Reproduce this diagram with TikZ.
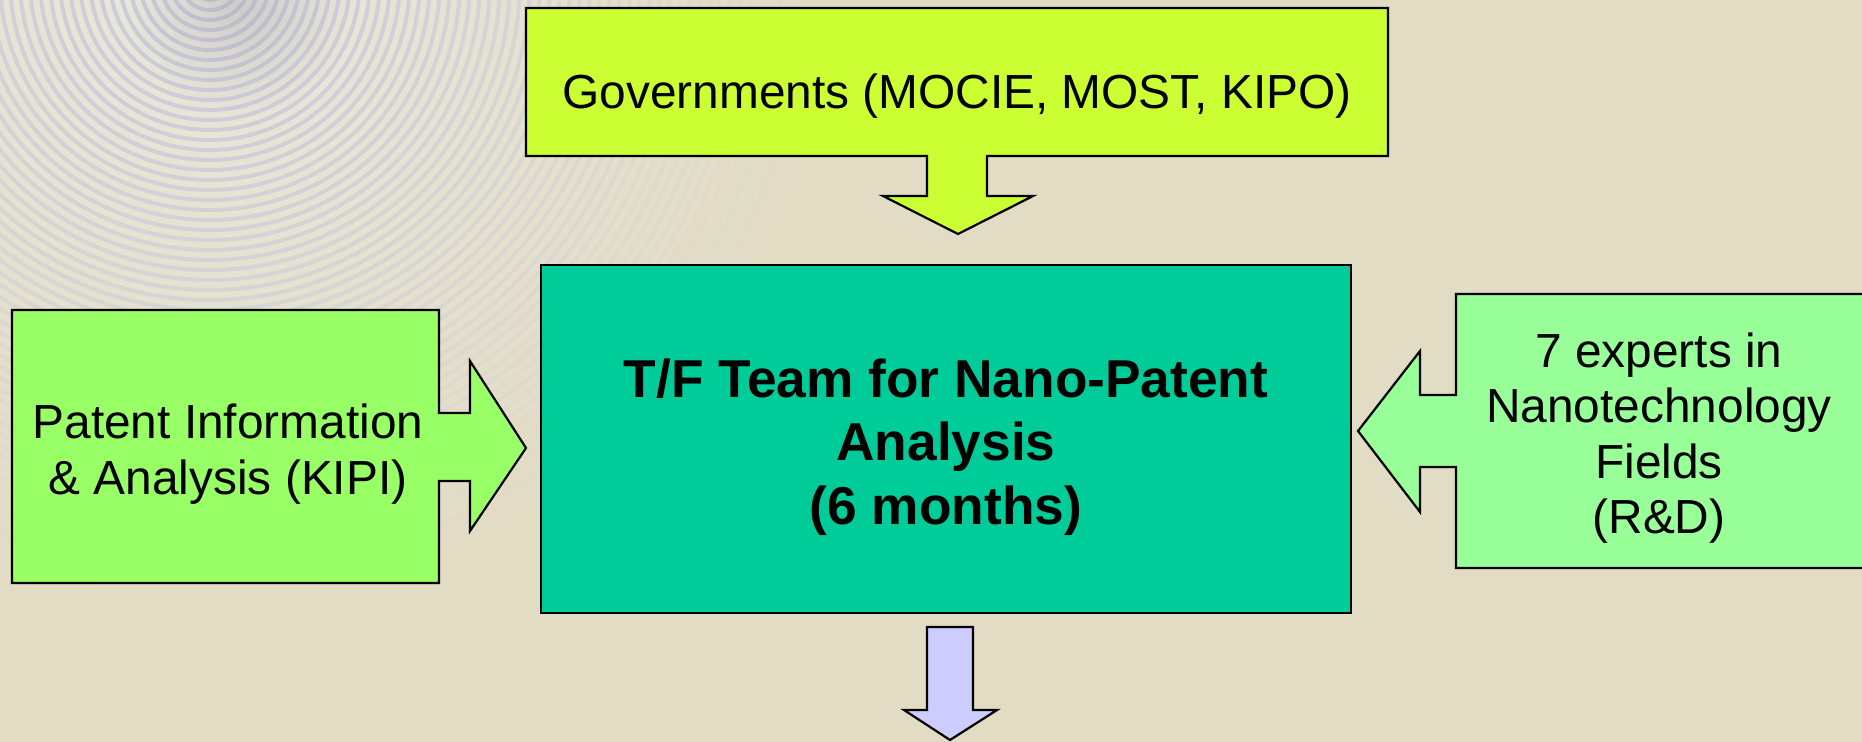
\documentclass[tikz,border=0pt]{standalone}
\usepackage{fontspec}
\setmainfont{Liberation Sans}
\usetikzlibrary{fadings}
\tikzfading[name=radfade, inner color=transparent!0, outer color=transparent!100]
\definecolor{bgc}{HTML}{E2DCC5}
\definecolor{lightc}{HTML}{EAE8DC}
\definecolor{ringc}{HTML}{C4C4DA}
\definecolor{smudge}{HTML}{9C9CAA}
\definecolor{govc}{HTML}{CCFF33}
\definecolor{tfc}{HTML}{00CC99}
\definecolor{leftc}{HTML}{99FF66}
\definecolor{rightc}{HTML}{99FF99}
\definecolor{outc}{HTML}{CCCCFF}
\begin{document}
\begin{tikzpicture}[x=1bp,y=-1bp,
  outline/.style={draw=black, line width=2.2bp, line join=miter},
  lbl/.style={font=\fontsize{48}{55.5}\selectfont, align=center, inner sep=0pt},
  blbl/.style={font=\fontsize{53.5}{63.5}\selectfont\bfseries, align=center, inner sep=0pt}]
\useasboundingbox (0,0) rectangle (1862,742);
\fill[bgc] (0,0) rectangle (1862,742);
% faint concentric rings, top left
\begin{scope}
  \clip (0,0) rectangle (1862,742);
  \fill[lightc, path fading=radfade] (210,-20) circle (640);
  \foreach \r in {10,20,...,600} {
    \pgfmathsetmacro\op{0.9*(1-\r/600)}
    \draw[ringc, line width=4bp, opacity=\op] (210,-20) circle (\r);
  }
  \fill[smudge, opacity=0.35, path fading=radfade] (240,5) circle (110);
\end{scope}
% Governments callout (down)
\draw[outline, fill=govc] (526,8) -- (1388,8) -- (1388,156) -- (987,156) -- (987,196)
  -- (1033,196) -- (958,234) -- (883,196) -- (927,196) -- (927,156) -- (526,156) -- cycle;
\node[lbl] (gov) at (957,96) {Governments (MOCIE, MOST, KIPO)};
% Left callout (right)
\draw[outline, fill=leftc] (12,310) -- (439,310) -- (439,413) -- (470,413) -- (470,361)
  -- (526,448) -- (470,531) -- (470,481) -- (439,481) -- (439,583) -- (12,583) -- cycle;
\node[lbl] (kipi) at (228,454) {Patent Information\\\& Analysis (KIPI)};
% Right callout (left)
\draw[outline, fill=rightc] (1868,294) -- (1456,294) -- (1456,395) -- (1420,395) -- (1420,351)
  -- (1358,431) -- (1420,512) -- (1420,467) -- (1456,467) -- (1456,568) -- (1868,568) -- cycle;
\node[lbl] (rd) at (1659,438) {7 experts in\\Nanotechnology\\Fields\\(R\&D)};
% Center box
\node[outline, fill=tfc, minimum width=810bp, minimum height=348bp] (tfbox) at (946,439) {};
\node[blbl] (tf) at (946,447) {T/F Team for Nano-Patent\\Analysis\\(6 months)};
% Bottom arrow
\draw[outline, fill=outc] (927,627) -- (973,627) -- (973,710) -- (997,710) -- (950,740)
  -- (904,710) -- (927,710) -- cycle;
\end{tikzpicture}
\end{document}
